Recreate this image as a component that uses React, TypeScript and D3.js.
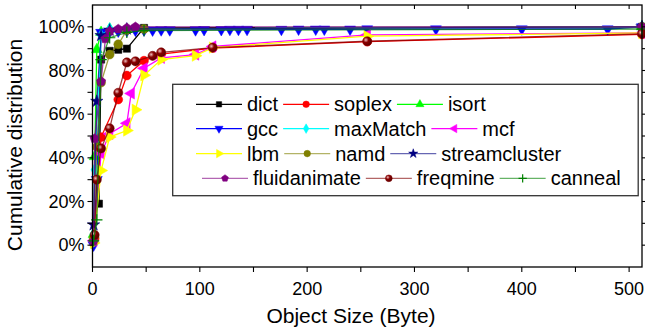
// @ts-nocheck
import React from 'react'
import * as d3 from 'd3'

const width = 645
const height = 330
const margin = { top: 5, right: 3, bottom: 63, left: 92.5 }
const font = "'Liberation Sans', Arial, sans-serif"

// tick values
const xTicks = [0, 100, 200, 300, 400, 500]
const xMinor = [0, 50, 100, 150, 200, 250, 300, 350, 400, 450, 500]
const yTicks = [0, 0.2, 0.4, 0.6, 0.8, 1.0]
const yMinor = [0, 0.1, 0.2, 0.3, 0.4, 0.5, 0.6, 0.7, 0.8, 0.9, 1.0]

// series values (object size in bytes, cumulative fraction)
const dictX = [6, 8, 16, 24, 32, 48, 512]
const dictY = [0.19, 0.85, 0.89, 0.895, 0.9, 0.995, 1.0]

const soplexX = [2, 8, 24, 32, 48, 64, 112, 256, 512]
const soplexY = [0.03, 0.495, 0.667, 0.777, 0.845, 0.875, 0.903, 0.932, 0.965]

const isortX = [1, 2, 4, 8, 16, 512]
const isortY = [0.05, 0.406, 0.896, 0.975, 0.99, 1.0]

const gccX = [1, 4, 8, 12, 16, 24, 32, 40, 48, 56, 64, 72, 96, 104, 120, 128, 136, 144, 176, 192, 208, 216, 240, 256, 320, 400, 480, 512]
const gccY = [0.0, 0.3, 0.974, 0.975, 0.978, 0.98, 0.982, 0.984, 0.985, 0.985, 0.986, 0.986, 0.986, 0.987, 0.987, 0.988, 0.988, 0.988, 0.988, 0.989, 0.989, 0.989, 0.989, 0.99, 0.99, 0.99, 0.99, 1.0]

const maxMatchX = [1, 2, 8, 16, 512]
const maxMatchY = [0.05, 0.345, 0.96, 0.99, 1.0]

const mcfX = [1, 8, 16, 32, 36, 48, 64, 96, 112, 256, 512]
const mcfY = [0.02, 0.42, 0.51, 0.558, 0.695, 0.81, 0.858, 0.873, 0.91, 0.963, 0.972]

const lbmX = [1, 8, 16, 32, 40, 48, 64, 96, 112, 256, 512]
const lbmY = [0.01, 0.342, 0.495, 0.525, 0.62, 0.778, 0.85, 0.868, 0.905, 0.957, 0.972]

const namdX = [1, 4, 8, 16, 24, 32, 48, 512]
const namdY = [0.03, 0.45, 0.745, 0.873, 0.92, 0.985, 0.99, 1.0]

const streamclusterX = [1, 4, 8, 16, 32, 512]
const streamclusterY = [0.093, 0.659, 0.96, 0.985, 0.99, 1.0]

const fluidanimateX = [1, 2, 8, 12, 16, 24, 32, 40, 512]
const fluidanimateY = [0.016, 0.488, 0.75, 0.945, 0.98, 0.99, 0.995, 1.0, 1.0]

const freqmineX = [2, 4, 8, 16, 24, 32, 40, 56, 64, 112, 256, 512]
const freqmineY = [0.047, 0.3, 0.443, 0.535, 0.698, 0.837, 0.842, 0.867, 0.883, 0.905, 0.934, 0.968]

const cannealX = [1, 4, 8, 16, 32, 48, 512]
const cannealY = [0.02, 0.116, 0.85, 0.95, 0.975, 0.983, 0.99]

const series = [
  { name: 'dict', color: '#000000', shape: 'square', x: dictX, y: dictY },
  { name: 'soplex', color: '#ff0000', shape: 'circle', x: soplexX, y: soplexY },
  { name: 'isort', color: '#00ff00', shape: 'triUp', x: isortX, y: isortY },
  { name: 'gcc', color: '#0000ff', shape: 'triDown', x: gccX, y: gccY },
  { name: 'maxMatch', color: '#00ffff', shape: 'diamond', x: maxMatchX, y: maxMatchY },
  { name: 'mcf', color: '#ff00ff', shape: 'triLeft', x: mcfX, y: mcfY },
  { name: 'lbm', color: '#ffff00', shape: 'triRight', x: lbmX, y: lbmY },
  { name: 'namd', color: '#808000', shape: 'circle', x: namdX, y: namdY, fade: true },
  { name: 'streamcluster', color: '#000080', shape: 'star', x: streamclusterX, y: streamclusterY, fade: true },
  { name: 'fluidanimate', color: '#800080', shape: 'pentagon', x: fluidanimateX, y: fluidanimateY, fade: true },
  { name: 'freqmine', color: '#800000', shape: 'ball', x: freqmineX, y: freqmineY, fade: true },
  { name: 'canneal', color: '#008000', shape: 'plus', x: cannealX, y: cannealY, fade: true },
]

const legendRows = [
  ['dict', 'soplex', 'isort'],
  ['gcc', 'maxMatch', 'mcf'],
  ['lbm', 'namd', 'streamcluster'],
  ['fluidanimate', 'freqmine', 'canneal'],
]

const pentagon = {
  draw(ctx, size) {
    const r = Math.sqrt(size / 2.378)
    for (let i = 0; i < 5; i++) {
      const a = -Math.PI / 2 + (i * 2 * Math.PI) / 5
      if (i === 0) ctx.moveTo(r * Math.cos(a), r * Math.sin(a))
      else ctx.lineTo(r * Math.cos(a), r * Math.sin(a))
    }
    ctx.closePath()
  },
}

const symbolTypes = {
  square: d3.symbolSquare,
  circle: d3.symbolCircle,
  ball: d3.symbolCircle,
  triUp: d3.symbolTriangle,
  triDown: d3.symbolTriangle,
  triLeft: d3.symbolTriangle,
  triRight: d3.symbolTriangle,
  diamond: d3.symbolDiamond,
  star: d3.symbolStar,
  pentagon: pentagon,
  plus: d3.symbolPlus,
}
const rotations = { triDown: 180, triLeft: -90, triRight: 90 }
const sizes = { square: 52, circle: 62, ball: 66, triUp: 52, triDown: 52, triLeft: 56, triRight: 56, diamond: 48, star: 48, pentagon: 56, plus: 44 }

const Marker = ({ s, x, y, scale = 1 }) => {
  const d = d3.symbol(symbolTypes[s.shape], sizes[s.shape] * scale)()
  const r = rotations[s.shape] || 0
  const isPlus = s.shape === 'plus'
  return (
    <path
      d={d}
      transform={`translate(${x},${y}) rotate(${r})`}
      fill={isPlus ? 'none' : s.shape === 'ball' ? 'url(#ball)' : s.color}
      stroke={s.color}
      strokeWidth={isPlus ? 1.2 : 0.5}
    />
  )
}

const measure = (() => {
  let ctx = null
  return (text) => {
    if (!ctx) {
      ctx = document.createElement('canvas').getContext('2d')
      ctx.font = `20px ${font}`
    }
    return ctx.measureText(text).width
  }
})()

const Legend = () => {
  const rowStart = [196, 196, 196, 202]
  const rowY = [104.3, 128.6, 153.6, 178.3]
  const byName = Object.fromEntries(series.map((s) => [s.name, s]))
  return (
    <g>
      <rect x={172.7} y={84.3} width={465.5} height={111.4} fill="white" stroke="#333" strokeWidth={1.3} />
      {legendRows.map((row, ri) => {
        let cx = rowStart[ri]
        return row.map((name) => {
          const s = byName[name]
          const x0 = cx
          const tx = x0 + 51
          cx = tx + measure(name) + 5
          const y = rowY[ri]
          return (
            <g key={name}>
              <line x1={x0} x2={x0 + 46} y1={y} y2={y} stroke={s.color} strokeOpacity={s.fade ? 0.6 : 1} strokeWidth={1.3} />
              <Marker s={s} x={x0 + 23} y={y} scale={0.55} />
              <text x={tx} y={y + 7} fontSize={20} fontFamily={font}>
                {name}
              </text>
            </g>
          )
        })
      })}
    </g>
  )
}

const App = () => {
  const x = d3.scaleLinear().domain([0, 512]).range([margin.left, width - margin.right])
  const y = d3.scaleLinear().domain([-0.1, 1.1]).range([height - margin.bottom, margin.top])
  const line = d3
    .line()
    .x((d) => x(d[0]))
    .y((d) => y(d[1]))
  const pct = d3.format('.0%')
  const left = margin.left
  const right = width - margin.right
  const top = margin.top
  const bottom = height - margin.bottom

  return (
    <svg width={width} height={height} style={{ position: 'absolute', left: 0, top: 0, background: 'white' }}>
      <defs>
        <radialGradient id="ball" cx="35%" cy="35%" r="65%">
          <stop offset="0%" stopColor="#f0c0c0" />
          <stop offset="45%" stopColor="#8a0000" />
          <stop offset="100%" stopColor="#5a0000" />
        </radialGradient>
      </defs>

      {/* series */}
      {series.map((s) => {
        const pts = s.x.map((v, i) => [v, s.y[i]])
        return (
          <g key={s.name}>
            <path d={line(pts)} fill="none" stroke={s.color} strokeOpacity={s.fade ? 0.75 : 1} strokeWidth={1.3} />
            {pts.map((p, i) => (
              <Marker key={i} s={s} x={x(p[0])} y={y(p[1])} />
            ))}
          </g>
        )
      })}

      <Legend />

      {/* frame */}
      <rect x={left} y={top} width={right - left} height={bottom - top} fill="none" stroke="#000" strokeWidth={1.3} />

      {/* x axis */}
      {xMinor.map((v) => (
        <g key={'xm' + v}>
          <line x1={x(v)} x2={x(v)} y1={bottom} y2={bottom + 5} stroke="#000" strokeWidth={1.1} />
          <line x1={x(v)} x2={x(v)} y1={top} y2={top + 4} stroke="#000" strokeWidth={1.1} />
        </g>
      ))}
      {xTicks.map((v) => (
        <text key={'xt' + v} x={x(v)} y={bottom + 28} textAnchor="middle" fontSize={18} fontFamily={font}>
          {v}
        </text>
      ))}
      <text x={351} y={323} textAnchor="middle" fontSize={21} fontFamily={font}>
        Object Size (Byte)
      </text>

      {/* y axis */}
      {yMinor.map((v) => (
        <g key={'ym' + v}>
          <line x1={left - 5} x2={left} y1={y(v)} y2={y(v)} stroke="#000" strokeWidth={1.1} />
          <line x1={right} x2={right + 4} y1={y(v)} y2={y(v)} stroke="#000" strokeWidth={1.1} />
        </g>
      ))}
      {yTicks.map((v) => (
        <text key={'yt' + v} x={left - 8} y={y(v)} dy="0.35em" textAnchor="end" fontSize={18} fontFamily={font}>
          {pct(v)}
        </text>
      ))}
      <text transform={`translate(22, 145) rotate(-90)`} textAnchor="middle" fontSize={21} fontFamily={font}>
        Cumulative distribution
      </text>
    </svg>
  )
}

export default App
